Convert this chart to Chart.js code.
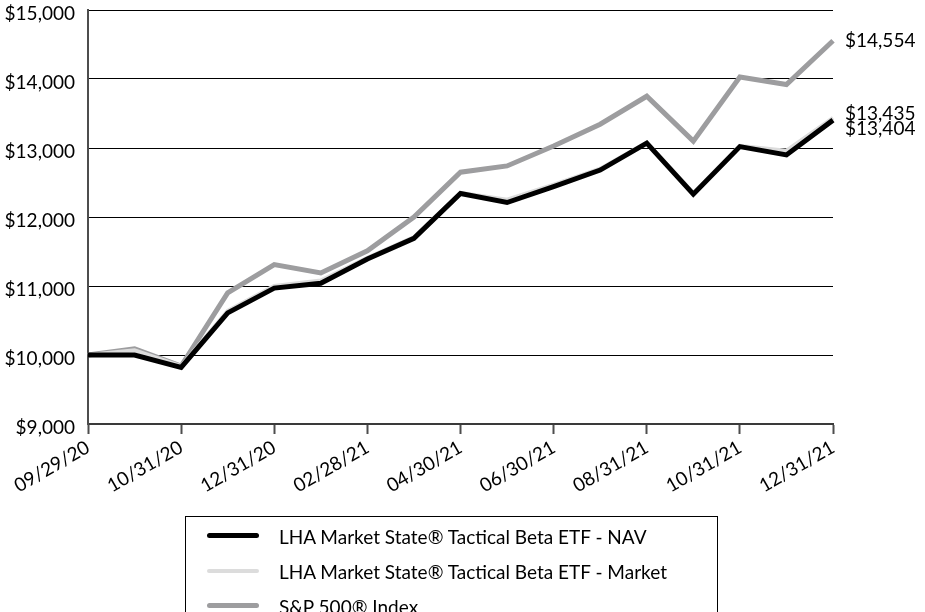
<!DOCTYPE html>
<html>
<head>
<meta charset="utf-8">
<script src="https://cdn.jsdelivr.net/npm/chart.js@4.4.1/dist/chart.umd.min.js"></script>
<style>
  html, body { margin: 0; padding: 0; background: #fff; overflow: hidden; }
  #wrap { position: relative; width: 925px; height: 612px; }
  #legend {
    position: absolute; left: 185px; top: 516px; width: 533px; height: 120px;
    border: 1px solid #000; box-sizing: border-box; padding-top: 1px;
    font-family: Lato, sans-serif; font-size: 19px; color: #000;
  }
  .row { position: relative; height: 35px; }
  .row span.swatch { position: absolute; left: 21px; top: 50%; width: 52px; border-radius: 3px; }
  .row span.text { position: absolute; left: 93px; top: 50%; transform: translateY(-50%); white-space: nowrap; }
</style>
</head>
<body>
<div id="wrap">
  <canvas id="growthChart" width="925" height="612"></canvas>
  <div id="legend"></div>
</div>
<script>
// Month-end dates (only every other one is printed on the axis)
const dates = [
  "09/29/20", "09/30/20", "10/31/20", "11/30/20", "12/31/20", "01/31/21",
  "02/28/21", "03/31/21", "04/30/21", "05/31/21", "06/30/21", "07/31/21",
  "08/31/21", "09/30/21", "10/31/21", "11/30/21", "12/31/21",
];

// Growth of $10,000
const navValues = [10000, 10000, 9820, 10610, 10970, 11040, 11390, 11690, 12340, 12210, 12440, 12680, 13070, 12330, 13020, 12900, 13404];
const marketValues = [10000, 10070, 9840, 10640, 11000, 11080, 11410, 11710, 12350, 12250, 12470, 12700, 13080, 12350, 13030, 12960, 13435];
const spValues = [10000, 10090, 9840, 10900, 11310, 11190, 11510, 12000, 12650, 12740, 13030, 13345, 13750, 13100, 14030, 13920, 14554];

const seriesNames = [
  "LHA Market State\u00AE Tactical Beta ETF - NAV",
  "LHA Market State\u00AE Tactical Beta ETF - Market",
  "S&P 500\u00AE Index",
];

const yTicks = [9000, 10000, 11000, 12000, 13000, 14000, 15000];

const money = (v) => "$" + Math.round(v).toLocaleString("en-US");
const FONT = { family: "Lato, sans-serif", size: 19 };

// Writes the final value next to the end of each line
const endLabels = {
  id: "endLabels",
  afterDatasetsDraw(chart, args, opts) {
    const ctx = chart.ctx;
    ctx.save();
    ctx.font = FONT.size + "px " + FONT.family;
    ctx.fillStyle = "#000";
    ctx.textBaseline = "middle";
    chart.data.datasets.forEach((ds, i) => {
      const pts = chart.getDatasetMeta(i).data;
      const last = pts[pts.length - 1];
      ctx.fillText(money(ds.data[ds.data.length - 1]), last.x + 12, last.y + opts.offsets[i]);
    });
    ctx.restore();
  },
};

document.addEventListener("DOMContentLoaded", () => {
  const ctx = document.getElementById("growthChart").getContext("2d");

  const chart = new Chart(ctx, {
    type: "line",
    data: {
      labels: dates,
      datasets: [
        { label: seriesNames[0], data: navValues, borderColor: "#000000", borderWidth: 5 },
        { label: seriesNames[1], data: marketValues, borderColor: "#dcdcdc", borderWidth: 4 },
        { label: seriesNames[2], data: spValues, borderColor: "#9d9d9f", borderWidth: 5 },
      ],
    },
    options: {
      responsive: false,
      animation: false,
      elements: { point: { radius: 0 }, line: { tension: 0, borderJoinStyle: "miter" } },
      layout: { padding: { top: 10, right: 92, left: 0, bottom: 0 } },
      scales: {
        x: {
          offset: false,
          grid: {
            drawOnChartArea: false,
            drawTicks: true,
            tickLength: 10,
            tickWidth: 2,
            tickColor: (c) => (c.index % 2 === 0 ? "#4d4d4d" : "rgba(0,0,0,0)"),
          },
          border: { display: true, color: "#3a3a3a", width: 2 },
          ticks: {
            autoSkip: false,
            maxRotation: 30,
            minRotation: 30,
            padding: 2,
            color: "#000",
            font: FONT,
            callback: (v, i) => (i % 2 === 0 ? dates[i] : ""),
          },
          afterFit: (scale) => { scale.height = 188; },
        },
        y: {
          min: yTicks[0],
          max: yTicks[yTicks.length - 1],
          afterBuildTicks: (scale) => { scale.ticks = yTicks.map((v) => ({ value: v })); },
          grid: { color: "#000", lineWidth: 1, drawTicks: false },
          border: { display: true, color: "#4d4d4d", width: 2 },
          ticks: { padding: 13, labelOffset: 4, color: "#000", font: FONT, callback: (v) => money(v) },
          afterFit: (scale) => {
            scale.width = 88;
            // don't let the tick labels push the plot down
            scale.paddingTop = 0;
            scale.paddingBottom = 0;
          },
        },
      },
      plugins: {
        legend: { display: false },
        tooltip: { enabled: false },
        endLabels: { offsets: [9, -4, 0] },
      },
    },
    plugins: [endLabels],
  });

  // Boxed legend under the axis, built from the datasets
  const legend = document.getElementById("legend");
  chart.data.datasets.forEach((ds) => {
    const row = document.createElement("div");
    row.className = "row";
    const sw = document.createElement("span");
    sw.className = "swatch";
    sw.style.height = ds.borderWidth + "px";
    sw.style.marginTop = -ds.borderWidth / 2 + "px";
    sw.style.background = ds.borderColor;
    const txt = document.createElement("span");
    txt.className = "text";
    txt.textContent = ds.label;
    row.appendChild(sw);
    row.appendChild(txt);
    legend.appendChild(row);
  });
});
</script>
</body>
</html>
